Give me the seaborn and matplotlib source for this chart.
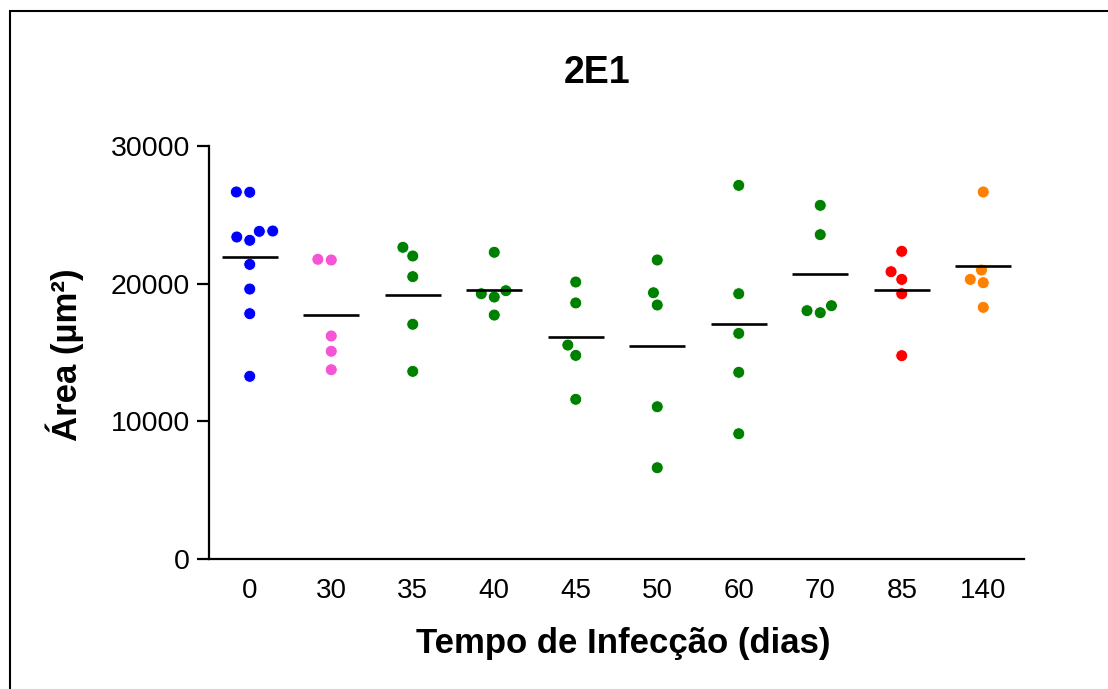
import numpy as np
import pandas as pd
import matplotlib.pyplot as plt
import seaborn as sns
from matplotlib.patches import Rectangle

# Dias de infecção (categorias do eixo x)
dias = ["0", "30", "35", "40", "45", "50", "60", "70", "85", "140"]

# Área (µm²) lida em cada grupo
area_0 = [26660, 26640, 23800, 23825, 23150, 23390, 21400, 19610, 17820, 13270]
area_30 = [21770, 21720, 16200, 15090, 13750]
area_35 = [22640, 22010, 20510, 17050, 13630]
area_40 = [22280, 19270, 19490, 19030, 17720]
area_45 = [20120, 18600, 15540, 14790, 11600]
area_50 = [21720, 19340, 18450, 11060, 6630]
area_60 = [27140, 19270, 16390, 13560, 9100]
area_70 = [25690, 23560, 18400, 17890, 18040]
area_85 = [22350, 20870, 20310, 19270, 14770]
area_140 = [26660, 20990, 20310, 20070, 18280]

cores = ["#0000FF", "#F554D6", "#008000", "#008000", "#008000",
         "#008000", "#008000", "#008000", "#FF0000", "#FF8000"]

grupos = [area_0, area_30, area_35, area_40, area_45,
          area_50, area_60, area_70, area_85, area_140]
df = pd.DataFrame({
    "dia": np.repeat(dias, [len(g) for g in grupos]),
    "area": np.concatenate(grupos),
})

sns.set_theme(style="ticks")
plt.rcParams["font.family"] = ["Liberation Sans", "DejaVu Sans"]
plt.rcParams.update({
    "text.color": "black",
    "axes.labelcolor": "black",
    "xtick.color": "black",
    "ytick.color": "black",
})

fig = plt.figure(figsize=(11.08, 6.89), dpi=100)
ax = fig.add_axes([209 / 1108, 1 - 559 / 689, 815 / 1108, 413 / 689])

# borda branca só para afastar os pontos como no original
sns.swarmplot(data=df, x="dia", y="area", order=dias, hue="dia",
              palette=dict(zip(dias, cores)), hue_order=dias, legend=False,
              size=8.6, linewidth=0.6, edgecolor="white", ax=ax, zorder=2)

# linha da média
sns.pointplot(data=df, x="dia", y="area", order=dias, estimator="mean",
              errorbar=None, color="black", marker="_", markersize=40,
              markeredgewidth=1.9, linestyle="none", ax=ax, zorder=3)

ax.set_xlim(-0.5, 9.5)
ax.set_ylim(0, 30000)
ax.set_yticks([0, 10000, 20000, 30000])
sns.despine(ax=ax)
for s in ["left", "bottom"]:
    ax.spines[s].set_linewidth(1.6)
    ax.spines[s].set_color("black")
ax.tick_params(axis="y", length=8.6, width=1.6, pad=5, labelsize=20.5)
ax.tick_params(axis="x", length=0, pad=14, labelsize=20)

ax.set_xlabel("Tempo de Infecção (dias)", fontsize=25, fontweight="bold", va="center")
ax.xaxis.set_label_coords((623 - 209) / 815, (559 - 643) / 413)
ax.set_ylabel("Área (µm²)", fontsize=25, fontweight="bold", va="center")
ax.yaxis.set_label_coords((65 - 209) / 815, (559 - 355) / 413)

fig.text(597 / 1108, 1 - 83 / 689, "2E1", fontsize=27, fontweight="bold",
         ha="center", va="baseline")

# moldura cortada da figura original
fig.add_artist(Rectangle((9.5 / 1108, -0.05), 1.2, 1 - 11 / 689 + 0.05,
                         transform=fig.transFigure, fill=False, lw=1.5, ec="black"))

fig.savefig("out.png", dpi=100)
